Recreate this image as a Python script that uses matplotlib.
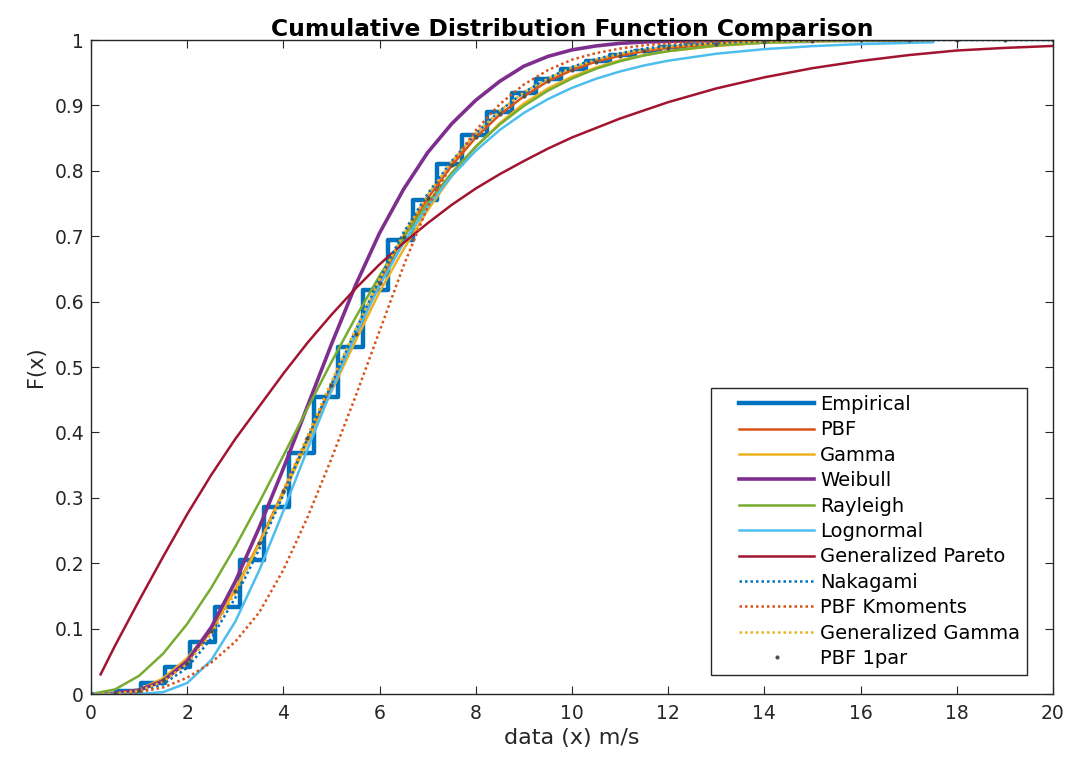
import matplotlib
matplotlib.use('Agg')
import matplotlib.pyplot as plt
from matplotlib.lines import Line2D
from matplotlib.legend_handler import HandlerLine2D

plt.rcParams['font.family'] = ['DejaVu Sans']

# Empirical CDF (stairs)
emp_x = [0.51, 0.51, 1.03, 1.54, 2.06, 2.57, 3.09, 3.60, 4.12, 4.63, 5.14, 5.66,
         6.17, 6.69, 7.20, 7.72, 8.23, 8.75, 9.26, 9.77, 10.29, 10.80, 11.32,
         11.83, 12.35, 12.86, 13.38, 13.89, 14.40, 14.92, 15.43, 15.95, 16.46,
         16.98, 17.49]
emp_F = [0, 0.004, 0.017, 0.042, 0.08, 0.133, 0.205, 0.286, 0.368, 0.454, 0.53,
         0.618, 0.694, 0.755, 0.81, 0.855, 0.89, 0.919, 0.94, 0.956, 0.968,
         0.977, 0.984, 0.989, 0.992, 0.995, 0.997, 0.998, 0.999, 0.9994, 0.9997,
         0.9998, 0.9999, 1.0, 1.0]

# x grids of the fitted curves
xa = [0, 0.5, 1, 1.5, 2, 2.5, 3, 3.5, 4, 4.5, 5, 5.5, 6, 6.5, 7, 7.5, 8, 8.5,
      9, 9.5, 10, 10.5, 11, 11.5, 12, 13, 14, 15, 16, 17.5]
xb = [0, 0.5, 1, 1.5, 2, 2.5, 3, 3.5, 4, 4.5, 5, 5.5, 6, 6.5, 7, 7.5, 8, 8.5,
      9, 9.5, 10, 10.5, 11, 11.5, 12, 13, 14, 15, 16, 17, 18, 19, 20]
x_gp = [0.2, 0.5, 1, 1.5, 2, 2.5, 3, 3.5, 4, 4.5, 5, 5.5, 6, 6.5, 7, 7.5, 8,
        8.5, 9, 9.5, 10, 11, 12, 13, 14, 15, 16, 17, 18, 19, 20]

F_pbf = [0, 0.001, 0.006, 0.022, 0.05, 0.097, 0.16, 0.232, 0.31, 0.39, 0.47,
         0.548, 0.628, 0.70, 0.758, 0.808, 0.851, 0.886, 0.914, 0.937, 0.954,
         0.967, 0.976, 0.983, 0.988, 0.994, 0.997, 0.9986, 0.9994, 1.0]
F_gamma = [0, 0.001, 0.007, 0.024, 0.055, 0.1, 0.16, 0.23, 0.306, 0.385, 0.463,
           0.54, 0.615, 0.68, 0.74, 0.792, 0.837, 0.873, 0.903, 0.926, 0.944,
           0.958, 0.969, 0.977, 0.983, 0.991, 0.996, 0.998, 0.999, 1.0]
F_weibull = [0, 0.001, 0.006, 0.02, 0.05, 0.102, 0.172, 0.255, 0.345, 0.44,
             0.535, 0.625, 0.705, 0.772, 0.828, 0.872, 0.908, 0.937, 0.96, 0.975,
             0.985, 0.991, 0.995, 0.997, 0.998, 0.9995, 1.0, 1.0, 1.0, 1.0]
F_rayleigh = [0, 0.0071, 0.0279, 0.0618, 0.1072, 0.1624, 0.2252, 0.2933, 0.3646,
              0.4367, 0.5077, 0.5757, 0.6396, 0.6981, 0.7506, 0.797, 0.837,
              0.871, 0.8993, 0.9226, 0.9412, 0.9561, 0.9676, 0.9765, 0.9831,
              0.9917, 0.9961, 0.9983, 0.9993, 0.9998]
F_lognorm = [0, 0.0, 0.0001, 0.0029, 0.0168, 0.0518, 0.1108, 0.1894, 0.28, 0.374,
             0.465, 0.5495, 0.6248, 0.69, 0.7455, 0.7921, 0.8307, 0.8626, 0.8886,
             0.9097, 0.9269, 0.9408, 0.952, 0.9611, 0.9684, 0.9791, 0.9861,
             0.9907, 0.9938, 0.9966]
F_gp = [0.03, 0.074, 0.143, 0.21, 0.275, 0.335, 0.39, 0.44, 0.49, 0.537, 0.58,
        0.62, 0.657, 0.69, 0.72, 0.748, 0.773, 0.795, 0.815, 0.834, 0.851, 0.88,
        0.905, 0.926, 0.943, 0.957, 0.968, 0.977, 0.984, 0.988, 0.991]
F_nakagami = [0, 0.0, 0.003, 0.015, 0.04, 0.085, 0.147, 0.222, 0.305, 0.39, 0.474,
              0.556, 0.635, 0.706, 0.765, 0.815, 0.857, 0.892, 0.92, 0.942, 0.959,
              0.971, 0.98, 0.987, 0.991, 0.996, 0.9985, 0.9995, 1.0, 1.0, 1.0,
              1.0, 1.0]
F_kmom = [0, 0.0, 0.003, 0.01, 0.025, 0.048, 0.08, 0.125, 0.19, 0.27, 0.36,
          0.455, 0.555, 0.655, 0.745, 0.81, 0.862, 0.902, 0.932, 0.954, 0.97,
          0.98, 0.987, 0.992, 0.995, 0.998, 0.9993, 1.0, 1.0, 1.0]
F_gengamma = [0, 0.001, 0.005, 0.019, 0.046, 0.092, 0.155, 0.23, 0.312, 0.395,
              0.478, 0.558, 0.634, 0.703, 0.763, 0.814, 0.857, 0.892, 0.92, 0.941,
              0.958, 0.97, 0.979, 0.985, 0.99, 0.995, 0.998, 0.999, 1.0, 1.0]
F_1par = [0, 0.001, 0.006, 0.021, 0.048, 0.096, 0.158, 0.231, 0.31, 0.391, 0.472,
          0.551, 0.628, 0.699, 0.758, 0.809, 0.852, 0.887, 0.915, 0.937, 0.954,
          0.967, 0.976, 0.983, 0.988, 0.994, 0.997, 0.9986, 0.9994, 0.9998, 1.0,
          1.0, 1.0]


class PaddedLine(HandlerLine2D):
    # leaves some blank space left of the legend sample, like MATLAB does
    def create_artists(self, legend, orig_handle, xdescent, ydescent, width,
                       height, fontsize, trans):
        shift = 1.08 * fontsize
        return super().create_artists(legend, orig_handle, xdescent - shift,
                                      ydescent, width - shift, height,
                                      fontsize, trans)


fig = plt.figure(figsize=(10.68, 7.6), dpi=100)
ax = fig.add_axes([0.0852, 0.0868, 0.9007, 0.8605])

dot = (0, (1, 1.2))
ax.step(emp_x, emp_F, where='post', color='#0072BD', lw=3.2, label='Empirical')
ax.plot(xa, F_pbf, color='#D95319', lw=1.8, label='PBF')
ax.plot(xa, F_gamma, color='#EDB120', lw=1.8, label='Gamma')
ax.plot(xa, F_weibull, color='#7E2F8E', lw=2.6, label='Weibull')
ax.plot(xa, F_rayleigh, color='#77AC30', lw=1.8, label='Rayleigh')
ax.plot(xa, F_lognorm, color='#4DBEEE', lw=1.8, label='Lognormal')
ax.plot(x_gp, F_gp, color='#A2142F', lw=1.8, label='Generalized Pareto')
ax.plot(xb, F_nakagami, color='#0072BD', lw=1.8, ls=dot, label='Nakagami')
ax.plot(xa, F_kmom, color='#D95319', lw=1.8, ls=dot, label='PBF Kmoments')
ax.plot(xa, F_gengamma, color='#EDB120', lw=1.8, ls=dot, label='Generalized Gamma')
ax.plot(xb, F_1par, ls='none', marker='.', ms=4, color='#505050', label='PBF 1par')

ax.set_xlim(0, 20)
ax.set_ylim(0, 1)
ax.set_xticks(range(0, 21, 2))
ax.set_yticks([i / 10 for i in range(11)])
ax.set_yticklabels(['0', '0.1', '0.2', '0.3', '0.4', '0.5', '0.6', '0.7', '0.8',
                    '0.9', '1'])
ax.tick_params(direction='in', length=6, width=0.8, top=True, right=True,
               colors='#262626', labelsize=13.5)
ax.tick_params(axis='x', pad=7)
ax.tick_params(axis='y', pad=5)
for s in ax.spines.values():
    s.set_color('#262626')
    s.set_linewidth(1.0)

ax.set_title('Cumulative Distribution Function Comparison', fontsize=16.8,
             fontweight='bold', pad=3)
ax.set_xlabel('data (x) m/s', fontsize=16, color='#262626', labelpad=4)
ax.set_ylabel('F(x)', fontsize=15, color='#262626', labelpad=6)

leg = ax.legend(loc='lower right', bbox_to_anchor=(0.973, 0.029), borderaxespad=0,
                fontsize=14, handlelength=4.94, handletextpad=0.3,
                labelspacing=0.33, borderpad=0.36, fancybox=False,
                edgecolor='#262626', framealpha=1,
                handler_map={Line2D: PaddedLine()})
leg.get_frame().set_linewidth(1.0)

fig.savefig('out.png', dpi=100)
